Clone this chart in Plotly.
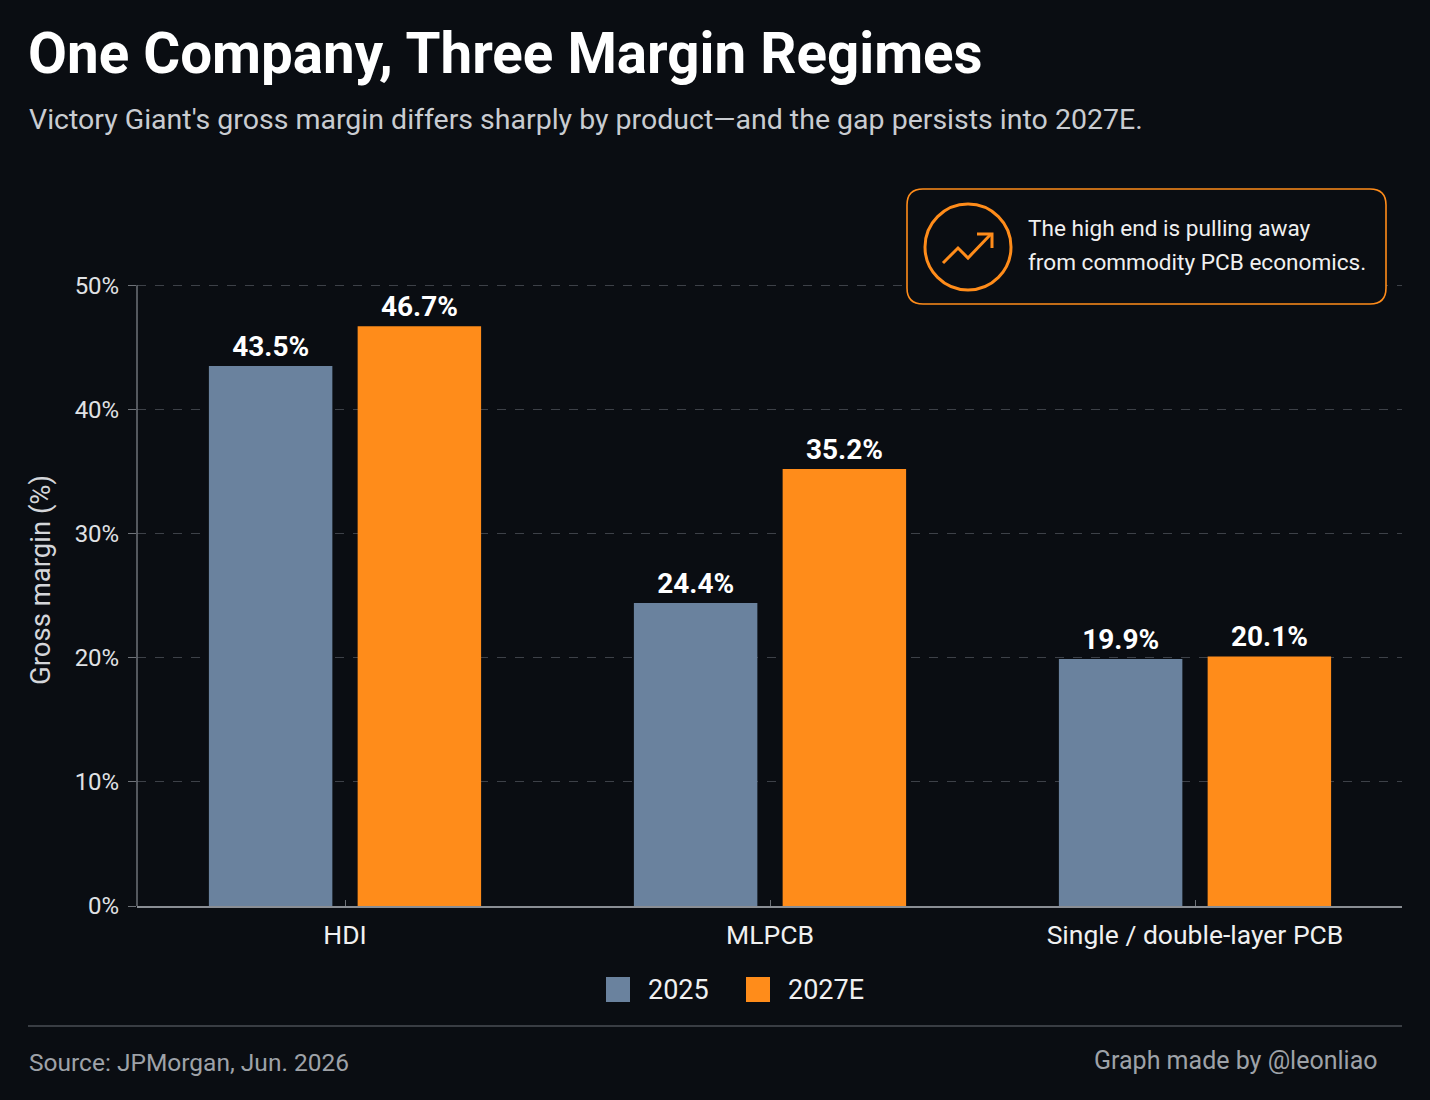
import plotly.graph_objects as go

categories = ["HDI", "MLPCB", "Single / double-layer PCB"]
series_names = ["2025", "2027E"]
margin_2025 = [43.5, 24.4, 19.9]
margin_2027e = [46.7, 35.2, 20.1]
y_ticks = [0, 10, 20, 30, 40, 50]
y_tick_labels = ["0%", "10%", "20%", "30%", "40%", "50%"]

BG = "#0a0d12"
BLUE = "#6a829e"
ORANGE = "#ff8c1a"
FONT = "Roboto, 'Noto Sans', sans-serif"

W, H = 1430, 1100
L, R, T, B = 137, 1402, 279, 906
CAT0_PX, CAT_STEP = 345, 425
Y_TOP = 50.5


def px(x):
    return (x - L) / (R - L)


def py(y):
    return (B - y) / (B - T)


fig = go.Figure()
for name, vals, col in [(series_names[0], margin_2025, BLUE), (series_names[1], margin_2027e, ORANGE)]:
    fig.add_trace(go.Bar(
        x=categories, y=vals, name=name, marker=dict(color=col, line=dict(width=0)),
        text=[f"{v:.1f}%" for v in vals], textposition="outside",
        textfont=dict(family=FONT, size=28, color="#ffffff", weight="bold"),
        cliponaxis=False, showlegend=False,
    ))

shapes = []
annotations = []

# rounded callout box
x0, x1, y0, y1, r = 907, 1386, 189, 304, 16
path = (f"M{px(x0 + r)},{py(y0)} L{px(x1 - r)},{py(y0)} Q{px(x1)},{py(y0)} {px(x1)},{py(y0 + r)} "
        f"L{px(x1)},{py(y1 - r)} Q{px(x1)},{py(y1)} {px(x1 - r)},{py(y1)} "
        f"L{px(x0 + r)},{py(y1)} Q{px(x0)},{py(y1)} {px(x0)},{py(y1 - r)} "
        f"L{px(x0)},{py(y0 + r)} Q{px(x0)},{py(y0)} {px(x0 + r)},{py(y0)} Z")
shapes.append(dict(type="path", xref="paper", yref="paper", path=path,
                   line=dict(color=ORANGE, width=1.6), fillcolor=BG, layer="above"))
# icon circle
cx, cy, cr = 968, 247, 43
shapes.append(dict(type="circle", xref="paper", yref="paper",
                   x0=px(cx - cr), x1=px(cx + cr), y0=py(cy + cr), y1=py(cy - cr),
                   line=dict(color=ORANGE, width=3), layer="above"))
# trend arrow
pts = [(943, 263), (958, 248), (968, 258), (991, 234)]
shapes.append(dict(type="path", xref="paper", yref="paper",
                   path="M" + " L".join(f"{px(a)},{py(b)}" for a, b in pts),
                   line=dict(color=ORANGE, width=3), layer="above"))
head = [(977, 234), (992, 234), (992, 248)]
shapes.append(dict(type="path", xref="paper", yref="paper",
                   path="M" + " L".join(f"{px(a)},{py(b)}" for a, b in head),
                   line=dict(color=ORANGE, width=3), layer="above"))

for txt, yy in [("The high end is pulling away", 229), ("from commodity PCB economics.", 263)]:
    annotations.append(dict(xref="paper", yref="paper", x=px(1026), y=py(yy), xanchor="left", yanchor="middle",
                            text=txt, align="left", showarrow=False,
                            font=dict(family=FONT, size=22.6, color="#f0f0f0")))

# title / subtitle
annotations.append(dict(xref="paper", yref="paper", x=px(26), y=py(54), xanchor="left", yanchor="middle",
                        text="<b>One Company, Three Margin Regimes</b>", showarrow=False,
                        font=dict(family=FONT, size=56.5, color="#ffffff")))
annotations.append(dict(xref="paper", yref="paper", x=px(27), y=py(120), xanchor="left", yanchor="middle",
                        text="Victory Giant's gross margin differs sharply by product\u2014and the gap persists into 2027E.",
                        showarrow=False, font=dict(family=FONT, size=28.5, color="#c9ccd1")))

# y-axis title
annotations.append(dict(xref="paper", yref="paper", x=px(40), y=py(580), xanchor="center", yanchor="middle",
                        text="Gross margin (%)", textangle=-90, showarrow=False,
                        font=dict(family=FONT, size=27.5, color="#d4d6da")))

# custom legend
for nm, col, sx in [(series_names[0], BLUE, 606), (series_names[1], ORANGE, 746)]:
    shapes.append(dict(type="rect", xref="paper", yref="paper",
                       x0=px(sx), x1=px(sx + 24), y0=py(1002), y1=py(977),
                       fillcolor=col, line=dict(width=0)))
    annotations.append(dict(xref="paper", yref="paper", x=px(sx + 40), y=py(990), xanchor="left",
                            yanchor="middle", text=nm, showarrow=False,
                            font=dict(family=FONT, size=27, color="#f0f0f0")))

# footer rule and texts
shapes.append(dict(type="line", xref="paper", yref="paper", x0=px(28), x1=px(1402), y0=py(1026), y1=py(1026),
                   line=dict(color="#4a4e55", width=1.5)))
annotations.append(dict(xref="paper", yref="paper", x=px(27), y=py(1062), xanchor="left", yanchor="middle",
                        text="Source: JPMorgan, Jun. 2026", showarrow=False,
                        font=dict(family=FONT, size=24.5, color="#9ea2a8")))
annotations.append(dict(xref="paper", yref="paper", x=px(1380), y=py(1060), xanchor="right", yanchor="middle",
                        text="Graph made by @leonliao", showarrow=False,
                        font=dict(family=FONT, size=25, color="#9ea2a8")))

fig.update_layout(
    width=W, height=H,
    paper_bgcolor=BG, plot_bgcolor=BG,
    margin=dict(l=L, r=W - R, t=T, b=H - B, pad=0),
    barmode="group", bargap=0.30, bargroupgap=0.17,
    font=dict(family=FONT, color="#e8e8e8"),
    shapes=shapes, annotations=annotations,
    showlegend=False,
    xaxis=dict(showgrid=False, showline=True, linecolor="#8a8e94", linewidth=1.5,
               range=[(L - CAT0_PX) / CAT_STEP, (R - CAT0_PX) / CAT_STEP],
               ticks="inside", ticklen=6, tickcolor="#6e7278", tickwidth=1,
               tickfont=dict(family=FONT, size=26.5, color="#f0f0f0"),
               ticklabelstandoff=4, zeroline=False),
    yaxis=dict(range=[0, Y_TOP], tickvals=y_ticks, ticktext=y_tick_labels,
               showgrid=True, gridcolor="#3d4148", griddash="dash", gridwidth=1,
               showline=False,
               ticks="outside", ticklen=8, tickcolor="#6e7278",
               tickfont=dict(family=FONT, size=24, color="#e0e2e5"),
               ticklabelstandoff=4, zeroline=False),
)
# y axis spine from 0% to 50% only
fig.add_shape(type="line", xref="paper", yref="y", x0=0, x1=0, y0=y_ticks[0], y1=y_ticks[-1],
              line=dict(color="#6e7278", width=1.5))

fig.write_html("out.html", config={"displayModeBar": False},
               post_script="document.body.style.margin='0';document.body.style.overflow='hidden';document.body.style.background='#0a0d12';")
